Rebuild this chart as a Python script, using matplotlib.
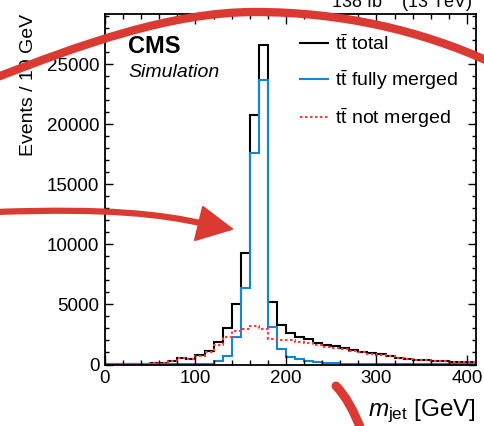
import matplotlib
matplotlib.use("Agg")
import matplotlib.pyplot as plt
from matplotlib.path import Path
from matplotlib.patches import PathPatch, Polygon
from matplotlib.lines import Line2D
from matplotlib.ticker import MultipleLocator

plt.rcParams['font.family'] = ['Liberation Sans', 'DejaVu Sans']
plt.rcParams['mathtext.fontset'] = 'custom'
plt.rcParams['mathtext.rm'] = 'Liberation Sans'
plt.rcParams['mathtext.it'] = 'Liberation Sans:italic'
plt.rcParams['mathtext.bf'] = 'Liberation Sans:bold'

# ---- data (events per 10 GeV) ----
bin_edges = list(range(0, 420, 10))
total = [30, 40, 50, 60, 80, 100, 150, 300, 570, 450, 770, 1150, 1850, 3000, 5050,
         9300, 20800, 26600, 5220, 3300, 2650, 2320, 2100, 1820, 1620, 1500, 1350, 1200,
         1050, 930, 850, 710, 570, 480, 400, 350, 290, 260, 230, 200, 180]
fully_merged = [10, 10, 10, 10, 10, 10, 10, 10, 10, 10, 30, 80, 270, 730, 2300,
                6400, 17650, 23700, 3150, 1250, 600, 420, 280, 200, 140, 100, 80, 60,
                50, 40, 40, 30, 25, 20, 20, 15, 15, 10, 10, 10, 10]
not_merged = [30, 40, 50, 60, 80, 100, 150, 290, 550, 440, 740, 1070, 1600, 2300, 2770,
              2920, 3180, 2950, 2100, 2050, 2020, 1900, 1800, 1620, 1480, 1400, 1270, 1140,
              1000, 890, 820, 690, 550, 470, 390, 340, 280, 250, 220, 190, 170]
labels = [r"$\mathrm{t}\bar{\mathrm{t}}$ total",
          r"$\mathrm{t}\bar{\mathrm{t}}$ fully merged",
          r"$\mathrm{t}\bar{\mathrm{t}}$ not merged"]
x_ticks = [0, 100, 200, 300, 400]
y_ticks = [0, 5000, 10000, 15000, 20000, 25000]

W, H = 484, 426
fig = plt.figure(figsize=(W / 100, H / 100), dpi=100)
L, R, T, B = 105, 476, 14, 364.5
ax = fig.add_axes([L / W, 1 - B / H, (R - L) / W, (B - T) / H])

c_total = 'black'
c_merged = '#1485dc'
c_not = '#ff3b3b'
dots = (0, (1.2, 1.2))

ax.stairs(total, bin_edges, color=c_total, lw=1.5)
ax.stairs(fully_merged, bin_edges, color=c_merged, lw=1.5)
ax.stairs(not_merged, bin_edges, color=c_not, lw=1.5, ls=dots)

ax.set_xlim(0, 410)
ax.set_ylim(0, 29200)
ax.set_xticks(x_ticks)
ax.set_yticks(y_ticks)
ax.set_yticklabels([str(v) for v in y_ticks])
ax.xaxis.set_minor_locator(MultipleLocator(20))
ax.yaxis.set_minor_locator(MultipleLocator(1000))
ax.tick_params(which='both', direction='in', top=True, right=True, labelsize=13.5, width=1.0)
ax.tick_params(axis='x', which='major', length=7, pad=4)
ax.tick_params(axis='x', which='minor', length=3.5)
ax.tick_params(axis='y', which='major', length=6, pad=4)
ax.tick_params(axis='y', which='minor', length=3)
for s in ax.spines.values():
    s.set_linewidth(1.3)

ax.set_ylabel("Events / 10 GeV", fontsize=14, loc='top')
ax.yaxis.set_label_coords(-0.183, 1.0)
ax.set_xlabel(r"$m_{\mathrm{jet}}$ [GeV]", fontsize=17.5, loc='right')
ax.xaxis.set_label_coords(1.0, -0.0956)

ax.text(0.062, 0.889, "CMS", transform=ax.transAxes, fontsize=17, fontweight='bold', va='baseline')
ax.text(0.062, 0.8194, "Simulation", transform=ax.transAxes, fontsize=14, style='italic', va='baseline')
fig.text(472 / W, 1 - 8 / H, r"138 fb$^{-1}$ (13 TeV)", fontsize=13, ha='right', va='baseline')

handles = [Line2D([], [], color=c_total, lw=1.5),
           Line2D([], [], color=c_merged, lw=1.5),
           Line2D([], [], color=c_not, lw=1.5, ls=dots)]
ax.legend(handles, labels, loc='upper left', bbox_to_anchor=((300 - L) / (R - L), (B - 34.5) / (B - T)),
          frameon=False, fontsize=14, handlelength=1.45, handletextpad=0.35,
          labelspacing=0.74, borderpad=0, borderaxespad=0)

# ---- red hand-drawn annotation strokes over the figure ----
def P(x, y):
    return (x / W, 1 - y / H)

red = '#db3a32'
arc = Path([P(-5, 78), P(80, 45), P(170, 12), P(255, 12), P(340, 12), P(420, 30), P(490, 62)],
           [Path.MOVETO, Path.CURVE4, Path.CURVE4, Path.CURVE4, Path.CURVE4, Path.CURVE4, Path.CURVE4])
fig.add_artist(PathPatch(arc, fill=False, edgecolor=red, lw=6, capstyle='round',
                         transform=fig.transFigure, zorder=10))
arrow_line = Path([P(-5, 212), P(110, 208), P(160, 214), P(205, 224)],
                  [Path.MOVETO, Path.CURVE4, Path.CURVE4, Path.CURVE4])
fig.add_artist(PathPatch(arrow_line, fill=False, edgecolor=red, lw=4.5, capstyle='round',
                         transform=fig.transFigure, zorder=10))
fig.add_artist(Polygon([P(203, 207), P(232, 229), P(195, 240)], closed=True, facecolor=red, edgecolor=red,
                       lw=1.5, joinstyle='round', transform=fig.transFigure, zorder=10))
stroke3 = Path([P(336, 386), P(350, 400), P(362, 432)], [Path.MOVETO, Path.CURVE3, Path.CURVE3])
fig.add_artist(PathPatch(stroke3, fill=False, edgecolor=red, lw=6.5, capstyle='round',
                         transform=fig.transFigure, zorder=10))

fig.savefig("out.png", dpi=100)
